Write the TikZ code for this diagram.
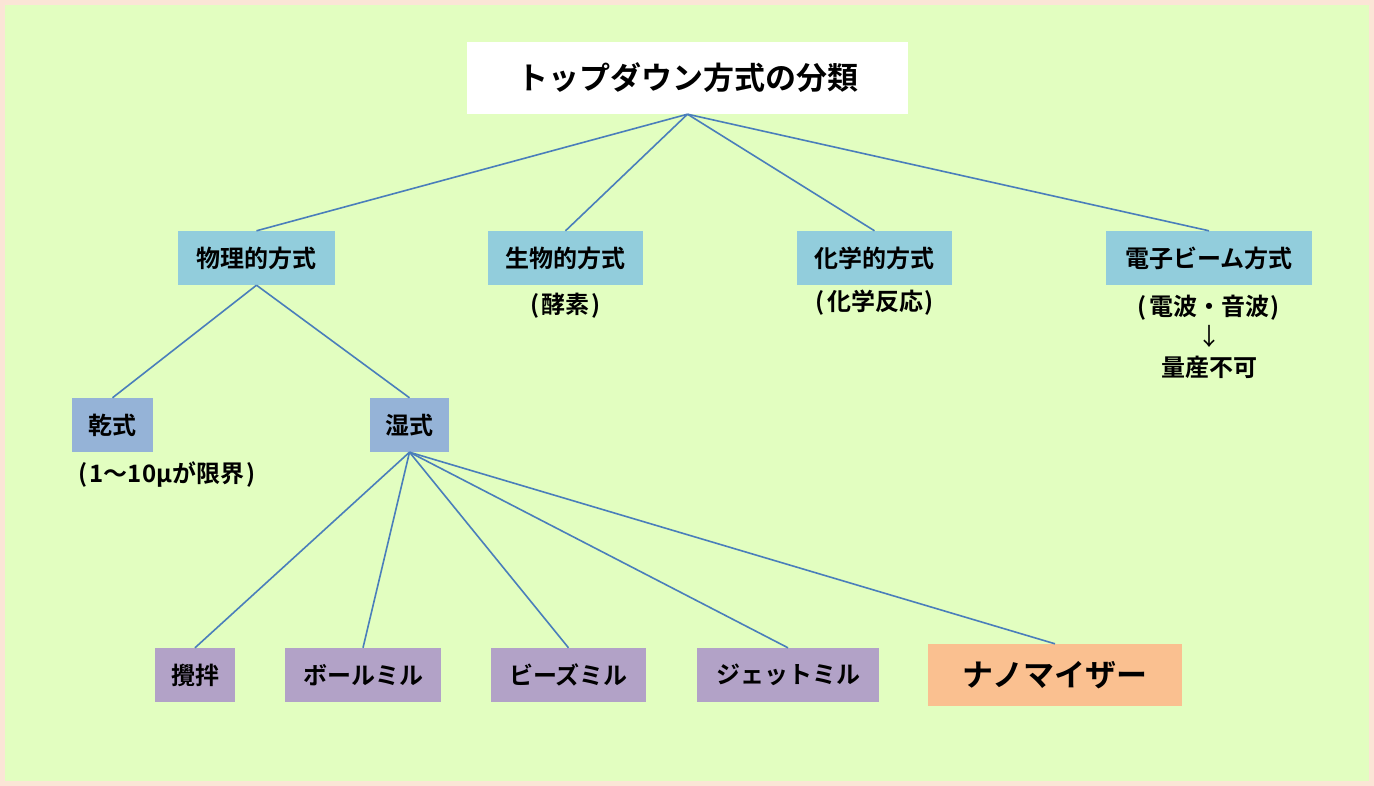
\documentclass[tikz,border=0pt]{standalone}
\usepackage{fontspec}
\setmainfont{Noto Sans CJK JP}[BoldFont={Noto Sans CJK JP Bold}]
\definecolor{bgframe}{HTML}{FBE5D6}
\definecolor{bggreen}{HTML}{E2FEC0}
\definecolor{lineblue}{HTML}{4A7EBB}
\definecolor{aqua}{HTML}{92CDDC}
\definecolor{steel}{HTML}{95B3D7}
\definecolor{lilac}{HTML}{B2A2C7}
\definecolor{peach}{HTML}{FAC090}
\newcommand{\lp}{(\kern2pt}
\newcommand{\rp}{\kern2pt)}
\tikzset{
  box/.style={rectangle, inner sep=0pt, minimum height=54pt, font=\fontsize{24}{28}\selectfont\bfseries, text=black},
  titlebox/.style={box, fill=white, minimum height=72pt, minimum width=441pt, font=\fontsize{31}{36}\selectfont\bfseries},
  catbox/.style={box, fill=aqua},
  subbox/.style={box, fill=steel},
  millbox/.style={box, fill=lilac},
  nanobox/.style={box, fill=peach, minimum height=62pt, font=\fontsize{31}{36}\selectfont\bfseries},
  note/.style={inner sep=0pt, font=\fontsize{24}{28}\selectfont\bfseries},
  link/.style={draw=lineblue, line width=1.6pt}
}
\begin{document}
\begin{tikzpicture}[x=1pt,y=-1pt]
\useasboundingbox (0,0) rectangle (1374,786);
\fill[bgframe] (0,0) rectangle (1374,786);
\fill[bggreen] (5,5) rectangle (1369,781);
\node[titlebox] (title) at (687.5,78) {トップダウン方式の分類};
\node[catbox, minimum width=157pt] (phys) at (256.5,258) {物理的方式};
\node[catbox, minimum width=155pt] (bio) at (565.5,258) {生物的方式};
\node[catbox, minimum width=155pt] (chem) at (874.5,258) {化学的方式};
\node[catbox, minimum width=206pt] (ebeam) at (1209,258) {電子ビーム方式};
\node[subbox, minimum width=81pt] (dry) at (112.5,425) {乾式};
\node[subbox, minimum width=79pt] (wet) at (409.5,425) {湿式};
\node[millbox, minimum width=80pt] (stir) at (195,675) {攪拌};
\node[millbox, minimum width=156pt] (ball) at (363,675) {ボールミル};
\node[millbox, minimum width=155pt] (beads) at (568.5,675) {ビーズミル};
\node[millbox, minimum width=182pt] (jet) at (788,675) {ジェットミル};
\node[nanobox, minimum width=254pt] (nano) at (1055,675) {ナノマイザー};
\node[note] (enz) at (566,306) {\lp 酵素\rp};
\node[note] (react) at (875,303) {\lp 化学反応\rp};
\node[note] (wave) at (1209,308) {\lp 電波・音波\rp};
\node[inner sep=0pt, font=\fontsize{24}{28}\selectfont] (arr) at (1209,336) {↓};
\node[note] (mass) at (1209,367) {量産不可};
\node[note] (limit) at (167,475) {\lp 1～10μが限界\rp};
\foreach \c in {phys,bio,chem,ebeam} \draw[link] (title.south) -- (\c.north);
\foreach \c in {dry,wet} \draw[link] (phys.south) -- (\c.north);
\foreach \c in {stir,ball,beads,jet} \draw[link] (wet.south) -- (\c.north);
\draw[link] (wet.south) -- (nano.north);
\end{tikzpicture}
\end{document}
